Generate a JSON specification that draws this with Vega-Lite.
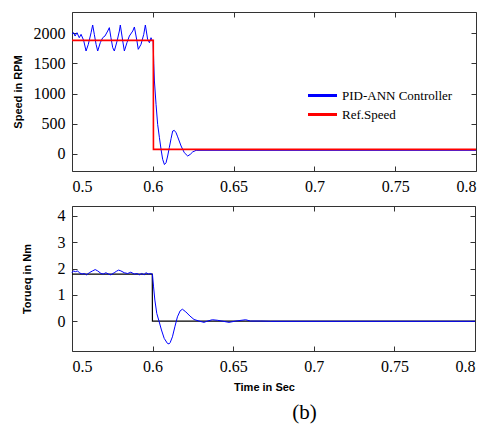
{
  "$schema": "https://vega.github.io/schema/vega-lite/v6.json",
  "padding": {"left": 11, "top": 11, "right": 6, "bottom": 5},
  "background": "white",
  "spacing": 10,
  "datasets": {
    "speed": [
      {"t":0.5500,"v":1990,"series":"PID-ANN Controller"},
      {"t":0.5510,"v":2010,"series":"PID-ANN Controller"},
      {"t":0.5519,"v":1955,"series":"PID-ANN Controller"},
      {"t":0.5531,"v":2010,"series":"PID-ANN Controller"},
      {"t":0.5545,"v":1927,"series":"PID-ANN Controller"},
      {"t":0.5556,"v":1983,"series":"PID-ANN Controller"},
      {"t":0.5572,"v":1883,"series":"PID-ANN Controller"},
      {"t":0.5587,"v":1706,"series":"PID-ANN Controller"},
      {"t":0.5601,"v":1817,"series":"PID-ANN Controller"},
      {"t":0.5618,"v":2010,"series":"PID-ANN Controller"},
      {"t":0.5628,"v":2138,"series":"PID-ANN Controller"},
      {"t":0.5638,"v":1983,"series":"PID-ANN Controller"},
      {"t":0.5649,"v":1817,"series":"PID-ANN Controller"},
      {"t":0.5659,"v":1706,"series":"PID-ANN Controller"},
      {"t":0.5675,"v":1844,"series":"PID-ANN Controller"},
      {"t":0.5690,"v":1927,"series":"PID-ANN Controller"},
      {"t":0.5704,"v":1955,"series":"PID-ANN Controller"},
      {"t":0.5721,"v":2038,"series":"PID-ANN Controller"},
      {"t":0.5731,"v":2094,"series":"PID-ANN Controller"},
      {"t":0.5741,"v":1927,"series":"PID-ANN Controller"},
      {"t":0.5752,"v":1761,"series":"PID-ANN Controller"},
      {"t":0.5762,"v":1706,"series":"PID-ANN Controller"},
      {"t":0.5779,"v":1872,"series":"PID-ANN Controller"},
      {"t":0.5793,"v":2038,"series":"PID-ANN Controller"},
      {"t":0.5799,"v":2138,"series":"PID-ANN Controller"},
      {"t":0.5814,"v":1872,"series":"PID-ANN Controller"},
      {"t":0.5824,"v":1706,"series":"PID-ANN Controller"},
      {"t":0.5840,"v":1844,"series":"PID-ANN Controller"},
      {"t":0.5855,"v":1955,"series":"PID-ANN Controller"},
      {"t":0.5876,"v":2038,"series":"PID-ANN Controller"},
      {"t":0.5886,"v":2105,"series":"PID-ANN Controller"},
      {"t":0.5902,"v":1872,"series":"PID-ANN Controller"},
      {"t":0.5910,"v":1734,"series":"PID-ANN Controller"},
      {"t":0.5927,"v":1817,"series":"PID-ANN Controller"},
      {"t":0.5944,"v":1983,"series":"PID-ANN Controller"},
      {"t":0.5954,"v":2138,"series":"PID-ANN Controller"},
      {"t":0.5968,"v":1900,"series":"PID-ANN Controller"},
      {"t":0.5979,"v":1844,"series":"PID-ANN Controller"},
      {"t":0.5989,"v":1927,"series":"PID-ANN Controller"},
      {"t":0.5996,"v":1880,"series":"PID-ANN Controller"},
      {"t":0.6002,"v":1880,"series":"PID-ANN Controller"},
      {"t":0.6006,"v":1500,"series":"PID-ANN Controller"},
      {"t":0.6010,"v":1208,"series":"PID-ANN Controller"},
      {"t":0.6020,"v":820,"series":"PID-ANN Controller"},
      {"t":0.6030,"v":488,"series":"PID-ANN Controller"},
      {"t":0.6041,"v":266,"series":"PID-ANN Controller"},
      {"t":0.6051,"v":73,"series":"PID-ANN Controller"},
      {"t":0.6061,"v":-93,"series":"PID-ANN Controller"},
      {"t":0.6072,"v":-180,"series":"PID-ANN Controller"},
      {"t":0.6082,"v":-149,"series":"PID-ANN Controller"},
      {"t":0.6092,"v":-38,"series":"PID-ANN Controller"},
      {"t":0.6102,"v":100,"series":"PID-ANN Controller"},
      {"t":0.6113,"v":250,"series":"PID-ANN Controller"},
      {"t":0.6123,"v":377,"series":"PID-ANN Controller"},
      {"t":0.6133,"v":388,"series":"PID-ANN Controller"},
      {"t":0.6144,"v":349,"series":"PID-ANN Controller"},
      {"t":0.6154,"v":280,"series":"PID-ANN Controller"},
      {"t":0.6175,"v":128,"series":"PID-ANN Controller"},
      {"t":0.6195,"v":17,"series":"PID-ANN Controller"},
      {"t":0.6216,"v":-38,"series":"PID-ANN Controller"},
      {"t":0.6232,"v":-10,"series":"PID-ANN Controller"},
      {"t":0.6247,"v":30,"series":"PID-ANN Controller"},
      {"t":0.6268,"v":56,"series":"PID-ANN Controller"},
      {"t":0.8000,"v":56,"series":"PID-ANN Controller"},
      {"t":0.5500,"v":1883,"series":"Ref.Speed"},
      {"t":0.6003,"v":1883,"series":"Ref.Speed"},
      {"t":0.6004,"v":73,"series":"Ref.Speed"},
      {"t":0.8000,"v":73,"series":"Ref.Speed"}
    ],
    "torque": [
      {"t":0.5500,"v":1.84,"series":"PID-ANN"},
      {"t":0.5508,"v":1.91,"series":"PID-ANN"},
      {"t":0.5521,"v":1.88,"series":"PID-ANN"},
      {"t":0.5535,"v":1.91,"series":"PID-ANN"},
      {"t":0.5545,"v":1.84,"series":"PID-ANN"},
      {"t":0.5562,"v":1.79,"series":"PID-ANN"},
      {"t":0.5576,"v":1.81,"series":"PID-ANN"},
      {"t":0.5591,"v":1.76,"series":"PID-ANN"},
      {"t":0.5607,"v":1.84,"series":"PID-ANN"},
      {"t":0.5628,"v":1.91,"series":"PID-ANN"},
      {"t":0.5644,"v":1.96,"series":"PID-ANN"},
      {"t":0.5659,"v":1.91,"series":"PID-ANN"},
      {"t":0.5680,"v":1.81,"series":"PID-ANN"},
      {"t":0.5694,"v":1.79,"series":"PID-ANN"},
      {"t":0.5710,"v":1.84,"series":"PID-ANN"},
      {"t":0.5727,"v":1.79,"series":"PID-ANN"},
      {"t":0.5741,"v":1.76,"series":"PID-ANN"},
      {"t":0.5762,"v":1.84,"series":"PID-ANN"},
      {"t":0.5777,"v":1.90,"series":"PID-ANN"},
      {"t":0.5789,"v":1.94,"series":"PID-ANN"},
      {"t":0.5803,"v":1.91,"series":"PID-ANN"},
      {"t":0.5824,"v":1.84,"series":"PID-ANN"},
      {"t":0.5845,"v":1.81,"series":"PID-ANN"},
      {"t":0.5865,"v":1.86,"series":"PID-ANN"},
      {"t":0.5886,"v":1.79,"series":"PID-ANN"},
      {"t":0.5906,"v":1.81,"series":"PID-ANN"},
      {"t":0.5917,"v":1.76,"series":"PID-ANN"},
      {"t":0.5933,"v":1.81,"series":"PID-ANN"},
      {"t":0.5948,"v":1.76,"series":"PID-ANN"},
      {"t":0.5958,"v":1.84,"series":"PID-ANN"},
      {"t":0.5975,"v":1.79,"series":"PID-ANN"},
      {"t":0.5989,"v":1.81,"series":"PID-ANN"},
      {"t":0.5999,"v":1.78,"series":"PID-ANN"},
      {"t":0.6006,"v":1.30,"series":"PID-ANN"},
      {"t":0.6014,"v":0.80,"series":"PID-ANN"},
      {"t":0.6026,"v":0.29,"series":"PID-ANN"},
      {"t":0.6041,"v":-0.03,"series":"PID-ANN"},
      {"t":0.6055,"v":-0.34,"series":"PID-ANN"},
      {"t":0.6072,"v":-0.66,"series":"PID-ANN"},
      {"t":0.6092,"v":-0.85,"series":"PID-ANN"},
      {"t":0.6102,"v":-0.87,"series":"PID-ANN"},
      {"t":0.6109,"v":-0.82,"series":"PID-ANN"},
      {"t":0.6123,"v":-0.60,"series":"PID-ANN"},
      {"t":0.6138,"v":-0.22,"series":"PID-ANN"},
      {"t":0.6154,"v":0.16,"series":"PID-ANN"},
      {"t":0.6171,"v":0.39,"series":"PID-ANN"},
      {"t":0.6185,"v":0.45,"series":"PID-ANN"},
      {"t":0.6206,"v":0.35,"series":"PID-ANN"},
      {"t":0.6232,"v":0.19,"series":"PID-ANN"},
      {"t":0.6257,"v":0.06,"series":"PID-ANN"},
      {"t":0.6288,"v":0.00,"series":"PID-ANN"},
      {"t":0.6319,"v":-0.05,"series":"PID-ANN"},
      {"t":0.6340,"v":0.00,"series":"PID-ANN"},
      {"t":0.6371,"v":0.05,"series":"PID-ANN"},
      {"t":0.6402,"v":0.03,"series":"PID-ANN"},
      {"t":0.6430,"v":0.00,"series":"PID-ANN"},
      {"t":0.6474,"v":-0.05,"series":"PID-ANN"},
      {"t":0.6515,"v":0.00,"series":"PID-ANN"},
      {"t":0.6577,"v":0.05,"series":"PID-ANN"},
      {"t":0.6608,"v":0.00,"series":"PID-ANN"},
      {"t":0.6670,"v":0.00,"series":"PID-ANN"},
      {"t":0.6732,"v":-0.01,"series":"PID-ANN"},
      {"t":0.8000,"v":-0.01,"series":"PID-ANN"},
      {"t":0.5500,"v":1.79,"series":"Ref"},
      {"t":0.5998,"v":1.79,"series":"Ref"},
      {"t":0.5999,"v":0.0,"series":"Ref"},
      {"t":0.8000,"v":0.0,"series":"Ref"}
    ]
  },
  "config": {
    "view": {"stroke": "#333333", "strokeWidth": 1},
    "axis": {
      "grid": false,
      "domain": false,
      "tickColor": "#333333",
      "tickSize": -5,
      "labelPadding": 12
    }
  },
  "title": {
    "text": "(b)",
    "orient": "bottom",
    "anchor": "middle",
    "font": "Liberation Serif",
    "fontSize": 21,
    "fontWeight": "normal",
    "color": "#000000",
    "dx": 59,
    "offset": 9
  },
  "vconcat": [
    {
      "width": 404,
      "height": 159,
      "data": {"name": "speed"},
      "layer": [
        {
          "transform": [{"filter": "datum.series === 'PID-ANN Controller'"}],
          "mark": {"type": "line", "strokeWidth": 1, "interpolate": "linear"},
          "encoding": {
            "x": {"field": "t", "type": "quantitative",
              "scale": {"domain": [0.55, 0.8], "nice": false, "zero": false},
              "axis": {"values": [0.55, 0.6, 0.65, 0.7, 0.75, 0.8], "title": null,
                "labelFont": "Liberation Serif", "labelFontSize": 16, "labelColor": "#000000",
                "labelExpr": "datum.value < 0.575 ? '0.5' : format(datum.value, '~g')"}},
            "y": {"field": "v", "type": "quantitative",
              "scale": {"domain": [-287, 2354], "nice": false, "zero": false},
              "axis": {"values": [0, 500, 1000, 1500, 2000], "format": "d", "title": "Speed in RPM", "titlePadding": 10,
                "labelFont": "Liberation Serif", "labelFontSize": 16, "labelColor": "#000000",
                "titleFont": "Liberation Sans", "titleFontWeight": "bold", "titleFontSize": 11, "titleColor": "#000000"}},
            "color": {"field": "series", "type": "nominal",
              "scale": {"domain": ["PID-ANN Controller", "Ref.Speed"], "range": ["#0000ff", "#ff0000"]},
              "legend": {"title": null, "orient": "none", "legendX": 239, "legendY": 72,
                "labelFont": "Liberation Serif", "labelFontSize": 13, "labelColor": "#000000",
                "symbolType": "M-1.45,0H1.45", "symbolSize": 400, "symbolStrokeWidth": 3, "rowPadding": 0, "labelOffset": 8}}
          }
        },
        {
          "transform": [{"filter": "datum.series === 'Ref.Speed'"}],
          "mark": {"type": "line", "strokeWidth": 1.6, "interpolate": "linear"},
          "encoding": {
            "x": {"field": "t", "type": "quantitative",
              "axis": {"orient": "top", "values": [0.55, 0.6, 0.65, 0.7, 0.75, 0.8], "labels": false, "title": null}},
            "y": {"field": "v", "type": "quantitative",
              "axis": {"orient": "right", "values": [0, 500, 1000, 1500, 2000], "labels": false, "title": null}},
            "color": {"field": "series", "type": "nominal"}
          }
        }
      ],
      "resolve": {"axis": {"x": "independent", "y": "independent"}}
    },
    {
      "width": 403,
      "height": 145,
      "data": {"name": "torque"},
      "layer": [
        {
          "transform": [{"filter": "datum.series === 'Ref'"}],
          "mark": {"type": "line", "strokeWidth": 1.2, "color": "#000000"},
          "encoding": {
            "x": {"field": "t", "type": "quantitative",
              "scale": {"domain": [0.55, 0.8], "nice": false, "zero": false},
              "axis": {"values": [0.55, 0.6, 0.65, 0.7, 0.75, 0.8], "title": "Time in Sec", "titlePadding": 7,
                "titleX": 192, "titleAlign": "center",
                "labelFont": "Liberation Serif", "labelFontSize": 16, "labelColor": "#000000",
                "titleFont": "Liberation Sans", "titleFontWeight": "bold", "titleFontSize": 11, "titleColor": "#000000",
                "labelExpr": "datum.value < 0.575 ? '0.5' : format(datum.value, '~g')"}},
            "y": {"field": "v", "type": "quantitative",
              "scale": {"domain": [-1.14, 4.38], "nice": false, "zero": false},
              "axis": {"values": [0, 1, 2, 3, 4], "title": "Torueq in Nm", "titlePadding": 25,
                "labelFont": "Liberation Serif", "labelFontSize": 16, "labelColor": "#000000",
                "titleFont": "Liberation Sans", "titleFontWeight": "bold", "titleFontSize": 11, "titleColor": "#000000"}}
          }
        },
        {
          "transform": [{"filter": "datum.series === 'PID-ANN'"}],
          "mark": {"type": "line", "strokeWidth": 1, "color": "#0000ff"},
          "encoding": {
            "x": {"field": "t", "type": "quantitative",
              "axis": {"orient": "top", "values": [0.55, 0.6, 0.65, 0.7, 0.75, 0.8], "labels": false, "title": null}},
            "y": {"field": "v", "type": "quantitative",
              "axis": {"orient": "right", "values": [0, 1, 2, 3, 4], "labels": false, "title": null}}
          }
        }
      ],
      "resolve": {"axis": {"x": "independent", "y": "independent"}}
    }
  ]
}
